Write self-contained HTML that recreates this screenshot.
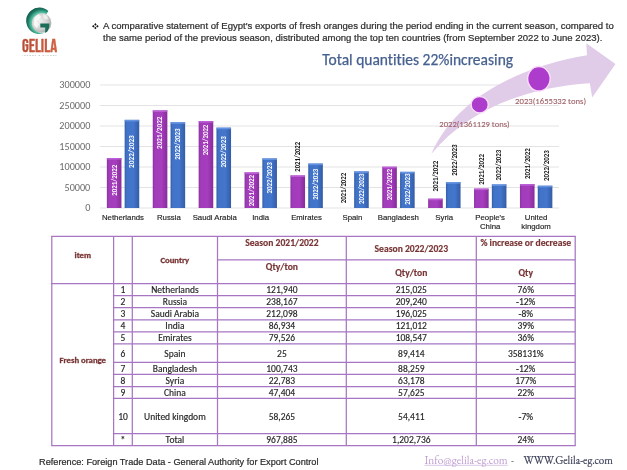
<!DOCTYPE html>
<html><head><meta charset="utf-8"><title>Egypt fresh orange exports</title>
<style>
html,body{margin:0;padding:0;background:#fff;}
body{width:627px;height:470px;overflow:hidden;position:relative;}
svg{position:absolute;left:0;top:0;display:block;filter:blur(0.3px);}
text{font-variant-ligatures:none;font-kerning:normal;}
</style></head>
<body>
<svg width="627" height="470" viewBox="0 0 627 470">
<rect width="627" height="470" fill="#fff"/>
<g id="logo">
<defs>
<radialGradient id="glb" cx="0.38" cy="0.4" r="0.75">
<stop offset="0" stop-color="#f2f2f2"/><stop offset="0.55" stop-color="#d2d2d2"/><stop offset="1" stop-color="#9c9c9c"/>
</radialGradient>
<radialGradient id="tl" cx="41.5" cy="22.9" r="15.5" gradientUnits="userSpaceOnUse">
<stop offset="0.64" stop-color="#62c4a8"/><stop offset="0.76" stop-color="#3aa488"/><stop offset="0.86" stop-color="#1f7c66"/><stop offset="1" stop-color="#165e4e"/>
</radialGradient>
<linearGradient id="gel" x1="0" y1="0" x2="1" y2="0">
<stop offset="0" stop-color="#b54a36"/><stop offset="1" stop-color="#d8643f"/>
</linearGradient>
</defs>
<circle cx="41.5" cy="22.9" r="9.9" fill="url(#glb)"/>
<path d="M34.5 17.5 L38.5 14.2 L41 16.5 L39 19.5 L36.5 21 L38.8 24.5 L36.8 28.5 L33.5 25 Z" fill="#ffffff" opacity="0.75"/>
<path d="M43 14 L47 15.5 L48.5 19 L45 19.5 L43.5 17 Z" fill="#ffffff" opacity="0.6"/>
<path d="M48.3 11.0 A13.2 13.2 0 1 0 45.1 32.6 L44.9 32.5 A9.9 9.9 0 1 1 46.45 14.3 Z" fill="url(#tl)"/>
<path d="M40.3 23.4 L49.4 23.6 L49.1 27.4 L47.4 31.4 L45.1 32.9 L45.3 27.5 L40.3 27.5 Z" fill="#1b6c59"/>
<text x="21.9" y="51.6" font-family="'Bebas Neue', 'Oswald', 'Liberation Sans Narrow', sans-serif" font-size="18.4" fill="url(#gel)" stroke="#c0553a" stroke-width="0.3" textLength="35.2" lengthAdjust="spacingAndGlyphs">GELILA</text>
<text x="22.3" y="55.7" font-family="'Liberation Sans', sans-serif" font-size="2.3" fill="#8c9c9a" textLength="34.4" lengthAdjust="spacing">IMPORT &amp; EXPORT</text>
</g>
<g fill="#151515"><path d="M95.4 23.1 L96.6 24.5 L95.4 25.7 L94.2 24.5 Z"/><path d="M95.4 26.7 L96.6 28 L95.4 29.3 L94.2 28 Z"/><path d="M92 26.2 L93.4 25 L94.7 26.2 L93.4 27.4 Z"/><path d="M96.1 26.2 L97.4 25 L98.7 26.2 L97.4 27.4 Z"/></g>
<text font-family="'Liberation Sans', Arial, sans-serif" font-size="9.55" fill="#2e2e2e" stroke="#2e2e2e" stroke-width="0.22">
<tspan x="103" y="29.3">A comparative statement of Egypt's exports of fresh oranges during the period ending in the current season, compared to</tspan>
<tspan x="103" y="40.6">the same period of the previous season, distributed among the top ten countries (from September 2022 to June 2023).</tspan>
</text>
<text x="322.3" y="64.7" font-family="Carlito, 'Liberation Sans', sans-serif" font-size="15.5" fill="#46608f" stroke="#46608f" stroke-width="0.25">Total quantities 22%increasing</text>
<line x1="100" y1="85.0" x2="559" y2="85.0" stroke="#e3e3e3" stroke-width="1"/>
<text x="90.3" y="88.1" text-anchor="end" font-family="Carlito, 'Liberation Sans', sans-serif" font-size="10.2" fill="#6a6a6a">300000</text>
<line x1="100" y1="105.5" x2="559" y2="105.5" stroke="#e3e3e3" stroke-width="1"/>
<text x="90.3" y="108.6" text-anchor="end" font-family="Carlito, 'Liberation Sans', sans-serif" font-size="10.2" fill="#6a6a6a">250000</text>
<line x1="100" y1="126.0" x2="559" y2="126.0" stroke="#e3e3e3" stroke-width="1"/>
<text x="90.3" y="129.1" text-anchor="end" font-family="Carlito, 'Liberation Sans', sans-serif" font-size="10.2" fill="#6a6a6a">200000</text>
<line x1="100" y1="146.5" x2="559" y2="146.5" stroke="#e3e3e3" stroke-width="1"/>
<text x="90.3" y="149.6" text-anchor="end" font-family="Carlito, 'Liberation Sans', sans-serif" font-size="10.2" fill="#6a6a6a">150000</text>
<line x1="100" y1="167.0" x2="559" y2="167.0" stroke="#e3e3e3" stroke-width="1"/>
<text x="90.3" y="170.1" text-anchor="end" font-family="Carlito, 'Liberation Sans', sans-serif" font-size="10.2" fill="#6a6a6a">100000</text>
<line x1="100" y1="187.5" x2="559" y2="187.5" stroke="#e3e3e3" stroke-width="1"/>
<text x="90.3" y="190.6" text-anchor="end" font-family="Carlito, 'Liberation Sans', sans-serif" font-size="10.2" fill="#6a6a6a">50000</text>
<line x1="100" y1="208.0" x2="559" y2="208.0" stroke="#e3e3e3" stroke-width="1"/>
<text x="90.3" y="211.1" text-anchor="end" font-family="Carlito, 'Liberation Sans', sans-serif" font-size="10.2" fill="#6a6a6a">0</text>
<path d="M431.3 154 C457.9 94 525.2 65.8 587 55.3 L586.3 43.3 L615.5 64.1 L592.2 97.5 L589.8 83.3 C530 87.2 470.2 107.1 431.3 154 Z" fill="#e0cce8"/>
<defs>
<linearGradient id="gp" x1="0" y1="0" x2="1" y2="0">
<stop offset="0" stop-color="#8a339f"/><stop offset="0.15" stop-color="#a13cbb"/><stop offset="0.6" stop-color="#a63dbd"/><stop offset="1" stop-color="#862c9c"/>
</linearGradient>
<linearGradient id="gb" x1="0" y1="0" x2="1" y2="0">
<stop offset="0" stop-color="#345ea8"/><stop offset="0.15" stop-color="#4173c8"/><stop offset="0.6" stop-color="#4376cc"/><stop offset="1" stop-color="#345ca6"/>
</linearGradient>
</defs>
<rect x="106.85" y="158.00" width="14.6" height="50.00" fill="url(#gp)"/>
<rect x="106.85" y="158.00" width="14.6" height="1.60" fill="#c266dc" opacity="0.8"/>
<rect x="124.65" y="119.84" width="14.6" height="88.16" fill="url(#gb)"/>
<rect x="124.65" y="119.84" width="14.6" height="1.60" fill="#6f9be6" opacity="0.8"/>
<rect x="152.75" y="110.35" width="14.6" height="97.65" fill="url(#gp)"/>
<rect x="152.75" y="110.35" width="14.6" height="1.60" fill="#c266dc" opacity="0.8"/>
<rect x="170.55" y="122.21" width="14.6" height="85.79" fill="url(#gb)"/>
<rect x="170.55" y="122.21" width="14.6" height="1.60" fill="#6f9be6" opacity="0.8"/>
<rect x="198.65" y="121.04" width="14.6" height="86.96" fill="url(#gp)"/>
<rect x="198.65" y="121.04" width="14.6" height="1.60" fill="#c266dc" opacity="0.8"/>
<rect x="216.45" y="127.63" width="14.6" height="80.37" fill="url(#gb)"/>
<rect x="216.45" y="127.63" width="14.6" height="1.60" fill="#6f9be6" opacity="0.8"/>
<rect x="244.55" y="172.36" width="14.6" height="35.64" fill="url(#gp)"/>
<rect x="244.55" y="172.36" width="14.6" height="1.60" fill="#c266dc" opacity="0.8"/>
<rect x="262.35" y="158.39" width="14.6" height="49.61" fill="url(#gb)"/>
<rect x="262.35" y="158.39" width="14.6" height="1.60" fill="#6f9be6" opacity="0.8"/>
<rect x="290.45" y="175.39" width="14.6" height="32.61" fill="url(#gp)"/>
<rect x="290.45" y="175.39" width="14.6" height="1.60" fill="#c266dc" opacity="0.8"/>
<rect x="308.25" y="163.50" width="14.6" height="44.50" fill="url(#gb)"/>
<rect x="308.25" y="163.50" width="14.6" height="1.60" fill="#6f9be6" opacity="0.8"/>
<rect x="354.15" y="171.34" width="14.6" height="36.66" fill="url(#gb)"/>
<rect x="354.15" y="171.34" width="14.6" height="1.60" fill="#6f9be6" opacity="0.8"/>
<rect x="382.25" y="166.70" width="14.6" height="41.30" fill="url(#gp)"/>
<rect x="382.25" y="166.70" width="14.6" height="1.60" fill="#c266dc" opacity="0.8"/>
<rect x="400.05" y="171.81" width="14.6" height="36.19" fill="url(#gb)"/>
<rect x="400.05" y="171.81" width="14.6" height="1.60" fill="#6f9be6" opacity="0.8"/>
<rect x="428.15" y="198.66" width="14.6" height="9.34" fill="url(#gp)"/>
<rect x="428.15" y="198.66" width="14.6" height="1.60" fill="#c266dc" opacity="0.8"/>
<rect x="445.95" y="182.10" width="14.6" height="25.90" fill="url(#gb)"/>
<rect x="445.95" y="182.10" width="14.6" height="1.60" fill="#6f9be6" opacity="0.8"/>
<rect x="474.05" y="188.56" width="14.6" height="19.44" fill="url(#gp)"/>
<rect x="474.05" y="188.56" width="14.6" height="1.60" fill="#c266dc" opacity="0.8"/>
<rect x="491.85" y="184.37" width="14.6" height="23.63" fill="url(#gb)"/>
<rect x="491.85" y="184.37" width="14.6" height="1.60" fill="#6f9be6" opacity="0.8"/>
<rect x="519.95" y="184.11" width="14.6" height="23.89" fill="url(#gp)"/>
<rect x="519.95" y="184.11" width="14.6" height="1.60" fill="#c266dc" opacity="0.8"/>
<rect x="537.75" y="185.69" width="14.6" height="22.31" fill="url(#gb)"/>
<rect x="537.75" y="185.69" width="14.6" height="1.60" fill="#6f9be6" opacity="0.8"/>
<text transform="translate(116.55 180.25) rotate(-90)" text-anchor="middle" font-family="Carlito, 'Liberation Sans', sans-serif" font-weight="bold" font-size="7.6" fill="#fff" textLength="30.9" lengthAdjust="spacingAndGlyphs">2021/2022</text>
<text transform="translate(134.35 151.55) rotate(-90)" text-anchor="middle" font-family="Carlito, 'Liberation Sans', sans-serif" font-weight="bold" font-size="7.6" fill="#fff" textLength="32.7" lengthAdjust="spacingAndGlyphs">2022/2023</text>
<text transform="translate(162.45 132.75) rotate(-90)" text-anchor="middle" font-family="Carlito, 'Liberation Sans', sans-serif" font-weight="bold" font-size="7.6" fill="#fff" textLength="32.5" lengthAdjust="spacingAndGlyphs">2021/2022</text>
<text transform="translate(180.25 144.05) rotate(-90)" text-anchor="middle" font-family="Carlito, 'Liberation Sans', sans-serif" font-weight="bold" font-size="7.6" fill="#fff" textLength="31.3" lengthAdjust="spacingAndGlyphs">2022/2023</text>
<text transform="translate(208.35 139.95) rotate(-90)" text-anchor="middle" font-family="Carlito, 'Liberation Sans', sans-serif" font-weight="bold" font-size="7.6" fill="#fff" textLength="30.5" lengthAdjust="spacingAndGlyphs">2021/2022</text>
<text transform="translate(226.15 151.90) rotate(-90)" text-anchor="middle" font-family="Carlito, 'Liberation Sans', sans-serif" font-weight="bold" font-size="7.6" fill="#fff" textLength="31.2" lengthAdjust="spacingAndGlyphs">2022/2023</text>
<text transform="translate(254.25 190.60) rotate(-90)" text-anchor="middle" font-family="Carlito, 'Liberation Sans', sans-serif" font-weight="bold" font-size="7.6" fill="#fff" textLength="31.2" lengthAdjust="spacingAndGlyphs">2021/2022</text>
<text transform="translate(272.05 177.95) rotate(-90)" text-anchor="middle" font-family="Carlito, 'Liberation Sans', sans-serif" font-weight="bold" font-size="7.6" fill="#fff" textLength="31.3" lengthAdjust="spacingAndGlyphs">2022/2023</text>
<text transform="translate(300.05 156.80) rotate(-90)" text-anchor="middle" font-family="Carlito, 'Liberation Sans', sans-serif" font-weight="bold" font-size="7.6" fill="#111" textLength="29.8" lengthAdjust="spacingAndGlyphs">2021/2022</text>
<text transform="translate(317.95 184.30) rotate(-90)" text-anchor="middle" font-family="Carlito, 'Liberation Sans', sans-serif" font-weight="bold" font-size="7.6" fill="#fff" textLength="31.0" lengthAdjust="spacingAndGlyphs">2022/2023</text>
<text transform="translate(345.55 188.05) rotate(-90)" text-anchor="middle" font-family="Carlito, 'Liberation Sans', sans-serif" font-weight="bold" font-size="7.6" fill="#111" textLength="30.5" lengthAdjust="spacingAndGlyphs">2021/2022</text>
<text transform="translate(363.85 188.75) rotate(-90)" text-anchor="middle" font-family="Carlito, 'Liberation Sans', sans-serif" font-weight="bold" font-size="7.6" fill="#fff" textLength="30.5" lengthAdjust="spacingAndGlyphs">2022/2023</text>
<text transform="translate(391.95 184.65) rotate(-90)" text-anchor="middle" font-family="Carlito, 'Liberation Sans', sans-serif" font-weight="bold" font-size="7.6" fill="#fff" textLength="31.3" lengthAdjust="spacingAndGlyphs">2021/2022</text>
<text transform="translate(409.75 189.15) rotate(-90)" text-anchor="middle" font-family="Carlito, 'Liberation Sans', sans-serif" font-weight="bold" font-size="7.6" fill="#fff" textLength="31.3" lengthAdjust="spacingAndGlyphs">2022/2023</text>
<text transform="translate(437.85 176.10) rotate(-90)" text-anchor="middle" font-family="Carlito, 'Liberation Sans', sans-serif" font-weight="bold" font-size="7.6" fill="#111" textLength="30.6" lengthAdjust="spacingAndGlyphs">2021/2022</text>
<text transform="translate(456.95 160.10) rotate(-90)" text-anchor="middle" font-family="Carlito, 'Liberation Sans', sans-serif" font-weight="bold" font-size="7.6" fill="#111" textLength="31.2" lengthAdjust="spacingAndGlyphs">2022/2023</text>
<text transform="translate(484.15 169.40) rotate(-90)" text-anchor="middle" font-family="Carlito, 'Liberation Sans', sans-serif" font-weight="bold" font-size="7.6" fill="#111" textLength="30.6" lengthAdjust="spacingAndGlyphs">2021/2022</text>
<text transform="translate(500.95 165.10) rotate(-90)" text-anchor="middle" font-family="Carlito, 'Liberation Sans', sans-serif" font-weight="bold" font-size="7.6" fill="#111" textLength="30.8" lengthAdjust="spacingAndGlyphs">2022/2023</text>
<text transform="translate(530.15 163.60) rotate(-90)" text-anchor="middle" font-family="Carlito, 'Liberation Sans', sans-serif" font-weight="bold" font-size="7.6" fill="#111" textLength="30.8" lengthAdjust="spacingAndGlyphs">2021/2022</text>
<text transform="translate(548.75 165.70) rotate(-90)" text-anchor="middle" font-family="Carlito, 'Liberation Sans', sans-serif" font-weight="bold" font-size="7.6" fill="#111" textLength="30.6" lengthAdjust="spacingAndGlyphs">2022/2023</text>
<text x="122.95" y="220.3" text-anchor="middle" font-family="'Liberation Sans', Arial, sans-serif" font-size="7.8" fill="#1e1e1e" stroke="#1e1e1e" stroke-width="0.15">Netherlands</text>
<text x="168.85" y="220.3" text-anchor="middle" font-family="'Liberation Sans', Arial, sans-serif" font-size="7.8" fill="#1e1e1e" stroke="#1e1e1e" stroke-width="0.15">Russia</text>
<text x="214.75" y="220.3" text-anchor="middle" font-family="'Liberation Sans', Arial, sans-serif" font-size="7.8" fill="#1e1e1e" stroke="#1e1e1e" stroke-width="0.15">Saudi Arabia</text>
<text x="260.65" y="220.3" text-anchor="middle" font-family="'Liberation Sans', Arial, sans-serif" font-size="7.8" fill="#1e1e1e" stroke="#1e1e1e" stroke-width="0.15">India</text>
<text x="306.55" y="220.3" text-anchor="middle" font-family="'Liberation Sans', Arial, sans-serif" font-size="7.8" fill="#1e1e1e" stroke="#1e1e1e" stroke-width="0.15">Emirates</text>
<text x="352.45" y="220.3" text-anchor="middle" font-family="'Liberation Sans', Arial, sans-serif" font-size="7.8" fill="#1e1e1e" stroke="#1e1e1e" stroke-width="0.15">Spain</text>
<text x="398.35" y="220.3" text-anchor="middle" font-family="'Liberation Sans', Arial, sans-serif" font-size="7.8" fill="#1e1e1e" stroke="#1e1e1e" stroke-width="0.15">Bangladesh</text>
<text x="444.25" y="220.3" text-anchor="middle" font-family="'Liberation Sans', Arial, sans-serif" font-size="7.8" fill="#1e1e1e" stroke="#1e1e1e" stroke-width="0.15">Syria</text>
<text x="490.15" y="220.3" text-anchor="middle" font-family="'Liberation Sans', Arial, sans-serif" font-size="7.8" fill="#1e1e1e" stroke="#1e1e1e" stroke-width="0.15">People&#39;s</text>
<text x="490.15" y="229.2" text-anchor="middle" font-family="'Liberation Sans', Arial, sans-serif" font-size="7.8" fill="#1e1e1e" stroke="#1e1e1e" stroke-width="0.15">China</text>
<text x="536.05" y="220.3" text-anchor="middle" font-family="'Liberation Sans', Arial, sans-serif" font-size="7.8" fill="#1e1e1e" stroke="#1e1e1e" stroke-width="0.15">United</text>
<text x="536.05" y="229.2" text-anchor="middle" font-family="'Liberation Sans', Arial, sans-serif" font-size="7.8" fill="#1e1e1e" stroke="#1e1e1e" stroke-width="0.15">kingdom</text>
<ellipse cx="479.7" cy="104.7" rx="8.6" ry="8.3" fill="#ad3bcb" stroke="#f9dcf9" stroke-width="1.5"/>
<ellipse cx="538.9" cy="78.8" rx="11.3" ry="12.2" fill="#ad3bcb" stroke="#f9dcf9" stroke-width="1.5"/>
<text x="439.3" y="126.9" font-family="Carlito, 'Liberation Sans', sans-serif" font-size="8.9" fill="#a0646a" stroke="#a0646a" stroke-width="0.12" textLength="70.4" lengthAdjust="spacingAndGlyphs">2022(1361129 tons)</text>
<text x="515.1" y="103.7" font-family="Carlito, 'Liberation Sans', sans-serif" font-size="8.9" fill="#a0646a" stroke="#a0646a" stroke-width="0.12" textLength="71" lengthAdjust="spacingAndGlyphs">2023(1655332 tons)</text>
<line x1="51.199999999999996" y1="236.3" x2="575.8000000000001" y2="236.3" stroke="#a676c2" stroke-width="1.25"/>
<line x1="51.199999999999996" y1="283.6" x2="575.8000000000001" y2="283.6" stroke="#a676c2" stroke-width="1.25"/>
<line x1="51.199999999999996" y1="445.5" x2="575.8000000000001" y2="445.5" stroke="#a676c2" stroke-width="1.25"/>
<line x1="113.6" y1="295.6" x2="575.2" y2="295.6" stroke="#a676c2" stroke-width="1.25"/>
<line x1="113.6" y1="307.7" x2="575.2" y2="307.7" stroke="#a676c2" stroke-width="1.25"/>
<line x1="113.6" y1="319.8" x2="575.2" y2="319.8" stroke="#a676c2" stroke-width="1.25"/>
<line x1="113.6" y1="331.8" x2="575.2" y2="331.8" stroke="#a676c2" stroke-width="1.25"/>
<line x1="113.6" y1="343.9" x2="575.2" y2="343.9" stroke="#a676c2" stroke-width="1.25"/>
<line x1="113.6" y1="362.3" x2="575.2" y2="362.3" stroke="#a676c2" stroke-width="1.25"/>
<line x1="113.6" y1="374.4" x2="575.2" y2="374.4" stroke="#a676c2" stroke-width="1.25"/>
<line x1="113.6" y1="386.5" x2="575.2" y2="386.5" stroke="#a676c2" stroke-width="1.25"/>
<line x1="113.6" y1="398.4" x2="575.2" y2="398.4" stroke="#a676c2" stroke-width="1.25"/>
<line x1="113.6" y1="433.5" x2="575.2" y2="433.5" stroke="#a676c2" stroke-width="1.25"/>
<line x1="217.5" y1="259.9" x2="575.2" y2="259.9" stroke="#a676c2" stroke-width="1.25"/>
<line x1="51.8" y1="236.3" x2="51.8" y2="445.5" stroke="#a676c2" stroke-width="1.25"/>
<line x1="113.6" y1="236.3" x2="113.6" y2="445.5" stroke="#a676c2" stroke-width="1.25"/>
<line x1="132.3" y1="236.3" x2="132.3" y2="445.5" stroke="#a676c2" stroke-width="1.25"/>
<line x1="217.5" y1="236.3" x2="217.5" y2="445.5" stroke="#a676c2" stroke-width="1.25"/>
<line x1="346.3" y1="236.3" x2="346.3" y2="445.5" stroke="#a676c2" stroke-width="1.25"/>
<line x1="476.3" y1="236.3" x2="476.3" y2="445.5" stroke="#a676c2" stroke-width="1.25"/>
<line x1="575.2" y1="236.3" x2="575.2" y2="445.5" stroke="#a676c2" stroke-width="1.25"/>
<text x="82.80" y="257.90" text-anchor="middle" font-family="Carlito, 'Liberation Sans', sans-serif" font-weight="bold" font-size="8.7" fill="#783434" stroke="#783434" stroke-width="0.3">item</text>
<text x="174.80" y="263.40" text-anchor="middle" font-family="Carlito, 'Liberation Sans', sans-serif" font-weight="bold" font-size="8.7" fill="#783434" stroke="#783434" stroke-width="0.3">Country</text>
<text x="281.90" y="246.09" text-anchor="middle" font-family="Carlito, 'Liberation Sans', sans-serif" font-weight="bold" font-size="9.6" fill="#783434" stroke="#783434" stroke-width="0.15">Season 2021/2022</text>
<text x="281.90" y="269.99" text-anchor="middle" font-family="Carlito, 'Liberation Sans', sans-serif" font-weight="bold" font-size="9.6" fill="#783434" stroke="#783434" stroke-width="0.15">Qty/ton</text>
<text x="411.30" y="251.79" text-anchor="middle" font-family="Carlito, 'Liberation Sans', sans-serif" font-weight="bold" font-size="9.6" fill="#783434" stroke="#783434" stroke-width="0.15">Season 2022/2023</text>
<text x="411.30" y="275.79" text-anchor="middle" font-family="Carlito, 'Liberation Sans', sans-serif" font-weight="bold" font-size="9.6" fill="#783434" stroke="#783434" stroke-width="0.15">Qty/ton</text>
<text x="525.75" y="246.29" text-anchor="middle" font-family="Carlito, 'Liberation Sans', sans-serif" font-weight="bold" font-size="9.6" fill="#783434" stroke="#783434" stroke-width="0.15">% increase or decrease</text>
<text x="525.75" y="275.79" text-anchor="middle" font-family="Carlito, 'Liberation Sans', sans-serif" font-weight="bold" font-size="9.6" fill="#783434" stroke="#783434" stroke-width="0.15">Qty</text>
<text x="82.80" y="362.90" text-anchor="middle" font-family="Carlito, 'Liberation Sans', sans-serif" font-weight="bold" font-size="8.7" fill="#783434" stroke="#783434" stroke-width="0.3">Fresh orange</text>
<text x="122.95" y="293.10" text-anchor="middle" font-family="Carlito, 'Liberation Sans', sans-serif" font-size="9.5" fill="#262626" stroke="#262626" stroke-width="0.15">1</text>
<text x="174.90" y="293.10" text-anchor="middle" font-family="Carlito, 'Liberation Sans', sans-serif" font-size="9.5" fill="#262626" stroke="#262626" stroke-width="0.15">Netherlands</text>
<text x="281.90" y="293.10" text-anchor="middle" font-family="Carlito, 'Liberation Sans', sans-serif" font-size="9.5" fill="#262626" stroke="#262626" stroke-width="0.15">121,940</text>
<text x="411.30" y="293.10" text-anchor="middle" font-family="Carlito, 'Liberation Sans', sans-serif" font-size="9.5" fill="#262626" stroke="#262626" stroke-width="0.15">215,025</text>
<text x="525.75" y="293.10" text-anchor="middle" font-family="Carlito, 'Liberation Sans', sans-serif" font-size="9.5" fill="#262626" stroke="#262626" stroke-width="0.15">76%</text>
<text x="122.95" y="305.15" text-anchor="middle" font-family="Carlito, 'Liberation Sans', sans-serif" font-size="9.5" fill="#262626" stroke="#262626" stroke-width="0.15">2</text>
<text x="174.90" y="305.15" text-anchor="middle" font-family="Carlito, 'Liberation Sans', sans-serif" font-size="9.5" fill="#262626" stroke="#262626" stroke-width="0.15">Russia</text>
<text x="281.90" y="305.15" text-anchor="middle" font-family="Carlito, 'Liberation Sans', sans-serif" font-size="9.5" fill="#262626" stroke="#262626" stroke-width="0.15">238,167</text>
<text x="411.30" y="305.15" text-anchor="middle" font-family="Carlito, 'Liberation Sans', sans-serif" font-size="9.5" fill="#262626" stroke="#262626" stroke-width="0.15">209,240</text>
<text x="525.75" y="305.15" text-anchor="middle" font-family="Carlito, 'Liberation Sans', sans-serif" font-size="9.5" fill="#262626" stroke="#262626" stroke-width="0.15">-12%</text>
<text x="122.95" y="317.25" text-anchor="middle" font-family="Carlito, 'Liberation Sans', sans-serif" font-size="9.5" fill="#262626" stroke="#262626" stroke-width="0.15">3</text>
<text x="174.90" y="317.25" text-anchor="middle" font-family="Carlito, 'Liberation Sans', sans-serif" font-size="9.5" fill="#262626" stroke="#262626" stroke-width="0.15">Saudi Arabia</text>
<text x="281.90" y="317.25" text-anchor="middle" font-family="Carlito, 'Liberation Sans', sans-serif" font-size="9.5" fill="#262626" stroke="#262626" stroke-width="0.15">212,098</text>
<text x="411.30" y="317.25" text-anchor="middle" font-family="Carlito, 'Liberation Sans', sans-serif" font-size="9.5" fill="#262626" stroke="#262626" stroke-width="0.15">196,025</text>
<text x="525.75" y="317.25" text-anchor="middle" font-family="Carlito, 'Liberation Sans', sans-serif" font-size="9.5" fill="#262626" stroke="#262626" stroke-width="0.15">-8%</text>
<text x="122.95" y="329.30" text-anchor="middle" font-family="Carlito, 'Liberation Sans', sans-serif" font-size="9.5" fill="#262626" stroke="#262626" stroke-width="0.15">4</text>
<text x="174.90" y="329.30" text-anchor="middle" font-family="Carlito, 'Liberation Sans', sans-serif" font-size="9.5" fill="#262626" stroke="#262626" stroke-width="0.15">India</text>
<text x="281.90" y="329.30" text-anchor="middle" font-family="Carlito, 'Liberation Sans', sans-serif" font-size="9.5" fill="#262626" stroke="#262626" stroke-width="0.15">86,934</text>
<text x="411.30" y="329.30" text-anchor="middle" font-family="Carlito, 'Liberation Sans', sans-serif" font-size="9.5" fill="#262626" stroke="#262626" stroke-width="0.15">121,012</text>
<text x="525.75" y="329.30" text-anchor="middle" font-family="Carlito, 'Liberation Sans', sans-serif" font-size="9.5" fill="#262626" stroke="#262626" stroke-width="0.15">39%</text>
<text x="122.95" y="341.35" text-anchor="middle" font-family="Carlito, 'Liberation Sans', sans-serif" font-size="9.5" fill="#262626" stroke="#262626" stroke-width="0.15">5</text>
<text x="174.90" y="341.35" text-anchor="middle" font-family="Carlito, 'Liberation Sans', sans-serif" font-size="9.5" fill="#262626" stroke="#262626" stroke-width="0.15">Emirates</text>
<text x="281.90" y="341.35" text-anchor="middle" font-family="Carlito, 'Liberation Sans', sans-serif" font-size="9.5" fill="#262626" stroke="#262626" stroke-width="0.15">79,526</text>
<text x="411.30" y="341.35" text-anchor="middle" font-family="Carlito, 'Liberation Sans', sans-serif" font-size="9.5" fill="#262626" stroke="#262626" stroke-width="0.15">108,547</text>
<text x="525.75" y="341.35" text-anchor="middle" font-family="Carlito, 'Liberation Sans', sans-serif" font-size="9.5" fill="#262626" stroke="#262626" stroke-width="0.15">36%</text>
<text x="122.95" y="356.60" text-anchor="middle" font-family="Carlito, 'Liberation Sans', sans-serif" font-size="9.5" fill="#262626" stroke="#262626" stroke-width="0.15">6</text>
<text x="174.90" y="356.60" text-anchor="middle" font-family="Carlito, 'Liberation Sans', sans-serif" font-size="9.5" fill="#262626" stroke="#262626" stroke-width="0.15">Spain</text>
<text x="281.90" y="356.60" text-anchor="middle" font-family="Carlito, 'Liberation Sans', sans-serif" font-size="9.5" fill="#262626" stroke="#262626" stroke-width="0.15">25</text>
<text x="411.30" y="356.60" text-anchor="middle" font-family="Carlito, 'Liberation Sans', sans-serif" font-size="9.5" fill="#262626" stroke="#262626" stroke-width="0.15">89,414</text>
<text x="525.75" y="356.60" text-anchor="middle" font-family="Carlito, 'Liberation Sans', sans-serif" font-size="9.5" fill="#262626" stroke="#262626" stroke-width="0.15">358131%</text>
<text x="122.95" y="371.85" text-anchor="middle" font-family="Carlito, 'Liberation Sans', sans-serif" font-size="9.5" fill="#262626" stroke="#262626" stroke-width="0.15">7</text>
<text x="174.90" y="371.85" text-anchor="middle" font-family="Carlito, 'Liberation Sans', sans-serif" font-size="9.5" fill="#262626" stroke="#262626" stroke-width="0.15">Bangladesh</text>
<text x="281.90" y="371.85" text-anchor="middle" font-family="Carlito, 'Liberation Sans', sans-serif" font-size="9.5" fill="#262626" stroke="#262626" stroke-width="0.15">100,743</text>
<text x="411.30" y="371.85" text-anchor="middle" font-family="Carlito, 'Liberation Sans', sans-serif" font-size="9.5" fill="#262626" stroke="#262626" stroke-width="0.15">88,259</text>
<text x="525.75" y="371.85" text-anchor="middle" font-family="Carlito, 'Liberation Sans', sans-serif" font-size="9.5" fill="#262626" stroke="#262626" stroke-width="0.15">-12%</text>
<text x="122.95" y="383.95" text-anchor="middle" font-family="Carlito, 'Liberation Sans', sans-serif" font-size="9.5" fill="#262626" stroke="#262626" stroke-width="0.15">8</text>
<text x="174.90" y="383.95" text-anchor="middle" font-family="Carlito, 'Liberation Sans', sans-serif" font-size="9.5" fill="#262626" stroke="#262626" stroke-width="0.15">Syria</text>
<text x="281.90" y="383.95" text-anchor="middle" font-family="Carlito, 'Liberation Sans', sans-serif" font-size="9.5" fill="#262626" stroke="#262626" stroke-width="0.15">22,783</text>
<text x="411.30" y="383.95" text-anchor="middle" font-family="Carlito, 'Liberation Sans', sans-serif" font-size="9.5" fill="#262626" stroke="#262626" stroke-width="0.15">63,178</text>
<text x="525.75" y="383.95" text-anchor="middle" font-family="Carlito, 'Liberation Sans', sans-serif" font-size="9.5" fill="#262626" stroke="#262626" stroke-width="0.15">177%</text>
<text x="122.95" y="395.95" text-anchor="middle" font-family="Carlito, 'Liberation Sans', sans-serif" font-size="9.5" fill="#262626" stroke="#262626" stroke-width="0.15">9</text>
<text x="174.90" y="395.95" text-anchor="middle" font-family="Carlito, 'Liberation Sans', sans-serif" font-size="9.5" fill="#262626" stroke="#262626" stroke-width="0.15">China</text>
<text x="281.90" y="395.95" text-anchor="middle" font-family="Carlito, 'Liberation Sans', sans-serif" font-size="9.5" fill="#262626" stroke="#262626" stroke-width="0.15">47,404</text>
<text x="411.30" y="395.95" text-anchor="middle" font-family="Carlito, 'Liberation Sans', sans-serif" font-size="9.5" fill="#262626" stroke="#262626" stroke-width="0.15">57,625</text>
<text x="525.75" y="395.95" text-anchor="middle" font-family="Carlito, 'Liberation Sans', sans-serif" font-size="9.5" fill="#262626" stroke="#262626" stroke-width="0.15">22%</text>
<text x="122.95" y="420.15" text-anchor="middle" font-family="Carlito, 'Liberation Sans', sans-serif" font-size="9.5" fill="#262626" stroke="#262626" stroke-width="0.15">10</text>
<text x="174.90" y="420.15" text-anchor="middle" font-family="Carlito, 'Liberation Sans', sans-serif" font-size="9.5" fill="#262626" stroke="#262626" stroke-width="0.15">United kingdom</text>
<text x="281.90" y="420.15" text-anchor="middle" font-family="Carlito, 'Liberation Sans', sans-serif" font-size="9.5" fill="#262626" stroke="#262626" stroke-width="0.15">58,265</text>
<text x="411.30" y="420.15" text-anchor="middle" font-family="Carlito, 'Liberation Sans', sans-serif" font-size="9.5" fill="#262626" stroke="#262626" stroke-width="0.15">54,411</text>
<text x="525.75" y="420.15" text-anchor="middle" font-family="Carlito, 'Liberation Sans', sans-serif" font-size="9.5" fill="#262626" stroke="#262626" stroke-width="0.15">-7%</text>
<text x="122.95" y="443.00" text-anchor="middle" font-family="Carlito, 'Liberation Sans', sans-serif" font-size="9.5" fill="#262626" stroke="#262626" stroke-width="0.15">*</text>
<text x="174.90" y="443.00" text-anchor="middle" font-family="Carlito, 'Liberation Sans', sans-serif" font-size="9.5" fill="#262626" stroke="#262626" stroke-width="0.15">Total</text>
<text x="281.90" y="443.00" text-anchor="middle" font-family="Carlito, 'Liberation Sans', sans-serif" font-size="9.5" fill="#262626" stroke="#262626" stroke-width="0.15">967,885</text>
<text x="411.30" y="443.00" text-anchor="middle" font-family="Carlito, 'Liberation Sans', sans-serif" font-size="9.5" fill="#262626" stroke="#262626" stroke-width="0.15">1,202,736</text>
<text x="525.75" y="443.00" text-anchor="middle" font-family="Carlito, 'Liberation Sans', sans-serif" font-size="9.5" fill="#262626" stroke="#262626" stroke-width="0.15">24%</text>
<text x="39.1" y="464.8" font-family="'Liberation Sans', Arial, sans-serif" font-size="9.16" fill="#2a2a2a" stroke="#2a2a2a" stroke-width="0.2">Reference: Foreign Trade Data - General Authority for Export Control</text>
<text x="424.5" y="464" font-family="'EB Garamond', 'Liberation Serif', 'Times New Roman', serif" font-size="10.8" fill="#c09dd2" textLength="83.2" lengthAdjust="spacingAndGlyphs">Info@gelila-eg.com</text>
<line x1="424.5" y1="465.3" x2="507.7" y2="465.3" stroke="#cfb0dc" stroke-width="0.7"/>
<text x="511" y="464" font-family="'Liberation Sans', Arial, sans-serif" font-size="9" fill="#555">-</text>
<text x="523.5" y="464" font-family="'EB Garamond', 'Liberation Serif', 'Times New Roman', serif" font-size="10.8" fill="#3b3f57" stroke="#3b3f57" stroke-width="0.15" textLength="89.5" lengthAdjust="spacingAndGlyphs">WWW.Gelila-eg.com</text>
</svg>
</body></html>
